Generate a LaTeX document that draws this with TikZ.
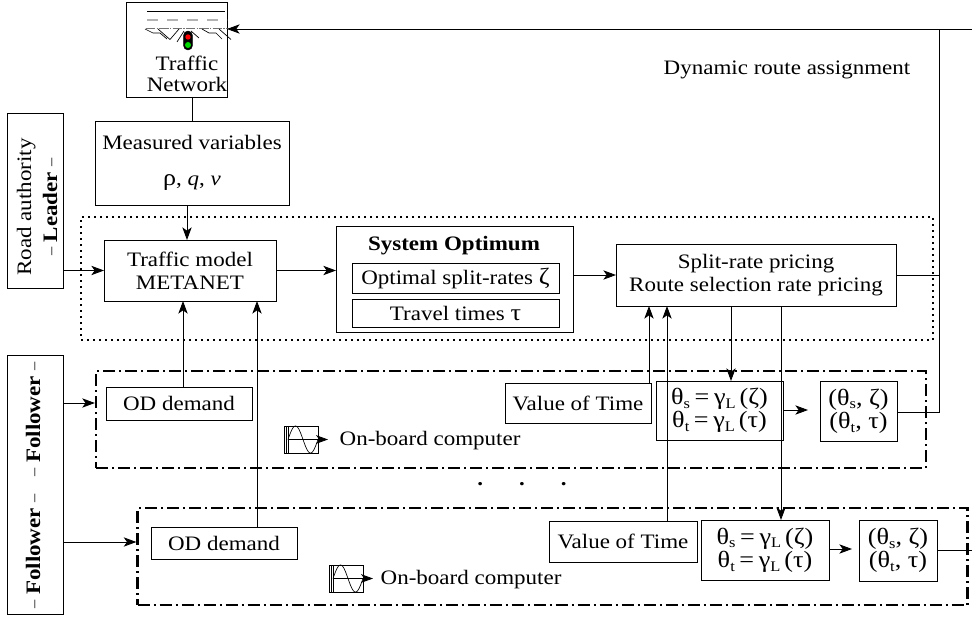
\documentclass[tikz,border=0pt]{standalone}
\usepackage{fontspec}
\setmainfont[FakeStretch=1.12]{Liberation Serif}
\usetikzlibrary{arrows.meta,calc}
\newcommand{\sbs}[1]{\raisebox{-0.35ex}{\fontsize{11}{11}\selectfont #1}}
\newcommand{\eqf}{\fontsize{17.5}{20}\selectfont}
\newcommand{\dsh}{\raisebox{1.2pt}{\fontsize{11}{11}\selectfont –}}
\newcommand{\thetaeqs}{\eqf θ\sbs{s}\hspace{3.5pt}=\hspace{3.5pt}γ\sbs{L}\,(ζ)\\\eqf θ\sbs{t}\hspace{3.5pt}=\hspace{3.5pt}γ\sbs{L}\,(τ)}
\newcommand{\pairs}{\eqf (θ\sbs{s}, ζ)\\\eqf (θ\sbs{t}, τ)}
\newcommand{\bx}[6]{\node[blk,minimum width={(#4-#2)*0.75pt},minimum height={(#5-#3)*0.75pt}] (#1) at ({(#2+#4)/2},{(#3+#5)/2}) {#6};}
\newcommand{\board}[3]{%
 \coordinate (#1) at (#2,#3);
 \draw[thin line] (#1) rectangle ++(34,27);
 \draw[thin line] ($(#1)+(2,0)$) -- ++(0,27) ($(#1)+(4,0)$) -- ++(0,27);
 \draw[thin line] plot[domain=0:30,samples=40,smooth] ({#2+4+\x},{#3+13.5-13.5*sin(\x*12)});
 \draw[thin line,-{Stealth[length=9pt,width=6.5pt,inset=2.5pt]}] ($(#1)+(4,13.5)$) -- ++(40,0);
}
\tikzset{
  x=0.75pt,y=-0.75pt,
  every node/.style={font=\fontsize{15.4}{17.5}\selectfont},
  blk/.style={draw,line width=0.65pt,align=center,inner sep=0pt,outer sep=0pt},
  thin line/.style={line width=0.5pt},
  conn/.style={line width=0.65pt},
  arr/.style={conn,-{Stealth[length=9.5pt,width=7pt,inset=2.5pt]}},
  ddash/.style={draw,line width=1.7pt,dash pattern=on 9pt off 3pt on 1.5pt off 3pt},
  dotbox/.style={draw,line width=0.8pt,dash pattern=on 1.5pt off 3pt},
}
\begin{document}
\begin{tikzpicture}
\useasboundingbox (0,0) rectangle (972,617);
% group frames
\node[dotbox,minimum width={852*0.75pt},minimum height={123*0.75pt},inner sep=0pt] (leaderzone) at (507,278.5) {};
\node[ddash,minimum width={830*0.75pt},minimum height={97*0.75pt},inner sep=0pt] (f1zone) at (511,419.5) {};
\node[ddash,minimum width={830*0.75pt},minimum height={97*0.75pt},inner sep=0pt] (f2zone) at (552.5,556.5) {};
% traffic network
\bx{net}{126}{2}{227}{97}{}
\node (nettext) at (187,74) [align=center,font=\fontsize{15.4}{15.5}\selectfont] {Traffic\\Network};
\draw[line width=0.9pt] (147,11.7) -- (225,11.7);
\draw[line width=0.8pt,black!30,dash pattern=on 8pt off 7pt] (147,20) -- (227,20);
\draw[line width=0.9pt,black!55,dash pattern=on 7pt off 1pt on 1pt off 1pt] (146,28.5) -- (230,28.5);
\draw[line width=0.5pt] (145,29) -- (153,33) -- (160,33) -- (167,39) (158,29) -- (170,39.5) -- (179,29)
  (177,42) -- (184,31) (191,31) -- (199,38) (202,29) -- (209,33) -- (216,33) -- (222,39) (219,29) -- (231,39.5);
\node[draw=black,fill=black,rounded corners=3pt,minimum width=6.5pt,minimum height=14pt,inner sep=0pt] (light) at (188,40.5) {};
\fill[red] (188,37) circle[radius=2.7];
\fill[green!85!black] (188,45) circle[radius=3];
% left boxes
\bx{road}{7}{113}{63}{288}{}
\node[rotate=90,align=center,font=\fontsize{15.4}{19.5}\selectfont] (roadtext) at (37,207) {Road authority\\\dsh\hspace{4pt}\textbf{Leader}\hspace{4pt}\dsh};
\bx{follow}{7}{355}{63}{614}{}
\node[rotate=90] (ft1) at (33,419.5) {\dsh\hspace{4pt}\textbf{Follower}\hspace{4pt}\dsh};
\node[rotate=90] (ft2) at (33,551.5) {\dsh\hspace{4pt}\textbf{Follower}\hspace{4pt}\dsh};
% upper row
\bx{meas}{95}{121}{289}{205}{Measured variables\\[9pt]{\fontsize{17.5}{20}\selectfont ρ}, \textit{q}, \textit{v}}
\bx{tm}{104}{240}{276}{301}{Traffic model\\METANET}
\bx{so}{336}{226}{573}{332}{}
\node (sotitle) at (454,246) {\textbf{System Optimum}};
\bx{split}{352}{263}{559}{293}{Optimal split-rates {\fontsize{17.5}{20}\selectfont ζ}}
\bx{ttime}{352}{299}{559}{327}{Travel times {\fontsize{17.5}{20}\selectfont τ}}
\bx{price}{616}{244}{896}{306}{Split-rate pricing\\Route selection rate pricing}
% follower 1
\bx{oda}{106}{387}{252}{420}{OD demand}
\bx{vota}{505}{383}{651}{423}{Value of Time}
\bx{tha}{656}{381}{783}{440}{\thetaeqs}
\bx{paa}{820}{381}{897}{441}{\pairs}
\board{icona}{284}{426}
\node[anchor=west] (obca) at (335,441) {On-board computer};
% follower 2
\bx{odb}{151}{527}{297}{559}{OD demand}
\bx{votb}{549}{521}{697}{562}{Value of Time}
\bx{thb}{701}{520}{829}{580}{\thetaeqs}
\bx{pab}{859}{520}{937}{581}{\pairs}
\board{iconb}{329}{565}
\node[anchor=west] (obcb) at (376,580) {On-board computer};
% labels
\node[anchor=west] (dyn) at (659,70) {Dynamic route assignment};
\node (dots) at (522,484) {\textbf{.}\hspace{27pt}\textbf{.}\hspace{27pt}\textbf{.}};
% coordinates
\coordinate (edgetop) at (972,29);
\coordinate (edgebot) at (972,550);
\coordinate (bus) at (939,29);
% connectors
\draw[arr] (edgetop) -- (net.east |- edgetop);
\draw[conn] (net.south -| meas.north) -- (meas.north);
\draw[arr] (187,205) -- (187,240);
\draw[conn] (paa.east |- 0,412) -| (bus);
\draw[conn] (price.east) -- (bus |- price.east);
\draw[conn] (pab.east |- edgebot) -- (edgebot);
\draw[arr] (road.east |- tm.west) -- (tm.west);
\draw[arr] (tm.east) -- (so.west |- tm.east);
\draw[arr] (so.east |- price.west) -- (price.west);
\draw[arr] (63,403) -- (f1zone.west |- 0,403);
\draw[arr] (63,542) -- (f2zone.west |- 0,542);
\draw[arr] (183,387) -- (183,301);
\draw[arr] (257,527) -- (257,301);
\draw[arr] (649,383) -- (649,306);
\draw[arr] (667,521) -- (667,306);
\draw[arr] (731,306) -- (731,381);
\draw[arr] (781,306) -- (781,520);
\draw[arr] (tha.east |- 0,410) -- (808,410);
\draw[arr] (thb.east |- 0,549) -- (852,549);
\end{tikzpicture}
\end{document}
